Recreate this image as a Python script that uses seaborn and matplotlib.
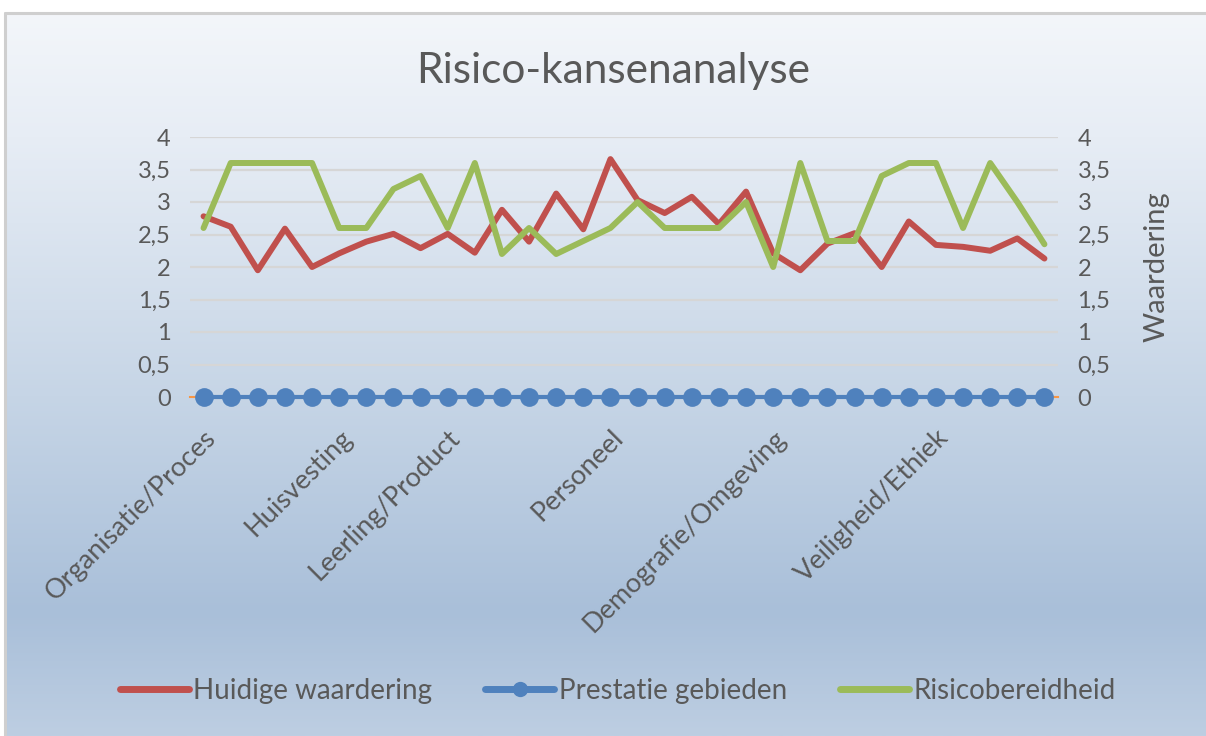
import numpy as np
import pandas as pd
import matplotlib
matplotlib.use("Agg")
import matplotlib.pyplot as plt
import seaborn as sns
from matplotlib.colors import LinearSegmentedColormap
from matplotlib.lines import Line2D

# 32 categories, only the group headers carry a label
categories = [""] * 32
categories[0] = "Organisatie/Proces"
categories[5] = "Huisvesting"
categories[9] = "Leerling/Product"
categories[15] = "Personeel"
categories[21] = "Demografie/Omgeving"
categories[27] = "Veiligheid/Ethiek"

huidige = [2.78, 2.62, 1.95, 2.59, 2.0, 2.21, 2.39, 2.51, 2.29, 2.51, 2.22, 2.88,
           2.39, 3.13, 2.58, 3.66, 3.03, 2.83, 3.08, 2.66, 3.16, 2.21, 1.95, 2.36,
           2.52, 2.0, 2.70, 2.34, 2.31, 2.25, 2.44, 2.13]
prestatie = [0] * 32
risico = [2.6, 3.6, 3.6, 3.6, 3.6, 2.6, 2.6, 3.2, 3.4, 2.6, 3.6, 2.2,
          2.6, 2.2, 2.4, 2.6, 3.0, 2.6, 2.6, 2.6, 3.0, 2.0, 3.6, 2.4,
          2.4, 3.4, 3.6, 3.6, 2.6, 3.6, 3.0, 2.35]

yticks = [0, 0.5, 1, 1.5, 2, 2.5, 3, 3.5, 4]
ytick_labels = ["0", "0,5", "1", "1,5", "2", "2,5", "3", "3,5", "4"]

RED, BLUE, GREEN = "#c0504d", "#4f81bd", "#9bbb59"
TXT = "#595959"

sns.set_theme(style="white")
plt.rcParams['font.family'] = ['Lato', 'DejaVu Sans']

W, H = 1206, 736
fig = plt.figure(figsize=(W / 100, H / 100), dpi=100)
fig.patch.set_facecolor("white")

# background gradient of the chart area
bg = fig.add_axes([0, 0, 1, 1])
bg.axis("off")
bg.set_xlim(0, 1)
bg.set_ylim(0, 1)
cmap = LinearSegmentedColormap.from_list(
    "bg", [(0.0, "#f3f6fa"), (0.17, "#e7edf5"), (0.53, "#c6d5e6"),
           (0.83, "#a9bfd9"), (1.0, "#bdcee2")])
grad = np.linspace(0, 1, 256).reshape(-1, 1)
bg.imshow(grad, extent=[5 / W, 1, 0, 1 - 13 / H], aspect="auto", cmap=cmap,
          origin="upper", zorder=0)
bg.plot([5 / W, 1], [1 - 13 / H] * 2, color="#cfcfcf", lw=2.2, zorder=1)
bg.plot([5 / W] * 2, [0, 1 - 13 / H], color="#cfcfcf", lw=2.2, zorder=1)

ax = fig.add_axes([190 / W, 339 / H, 868 / W, 260 / H])
ax.patch.set_alpha(0)

df = pd.DataFrame({"pos": range(32), "huidige": huidige,
                   "prestatie": prestatie, "risico": risico})

for y in yticks[1:]:
    ax.axhline(y, color="#d6d6d6", lw=1.6, zorder=1)

sns.lineplot(data=df, x="pos", y="huidige", color=RED, lw=4.3, ax=ax,
             solid_capstyle="round", solid_joinstyle="round", zorder=3)
sns.lineplot(data=df, x="pos", y="prestatie", color=BLUE, lw=3, ax=ax,
             marker="o", markersize=13.5, markeredgewidth=0, zorder=4,
             clip_on=False)
sns.lineplot(data=df, x="pos", y="risico", color=GREEN, lw=4.3, ax=ax,
             solid_capstyle="round", solid_joinstyle="round", zorder=3)

ax.set_xlim(-0.5, 31.5)
ax.set_ylim(0, 4)
ax.set_yticks(yticks)
ax.set_yticklabels(ytick_labels, fontsize=17, color=TXT)
ax.set_xticks(range(32))
ax.set_xticklabels(categories, rotation=45, ha="right",
                   rotation_mode="anchor", fontsize=19.5, color=TXT)
ax.tick_params(axis="x", length=0, pad=20)
ax.tick_params(axis="y", length=0, pad=14)
ax.set_xlabel("")
ax.set_ylabel("")
for s in ["top", "left", "right"]:
    ax.spines[s].set_visible(False)
ax.spines["bottom"].set_color("#f79646")
ax.spines["bottom"].set_linewidth(1.5)
ax.spines["bottom"].set_zorder(2)

ax2 = ax.twinx()
ax2.set_ylim(0, 4)
ax2.set_yticks(yticks)
ax2.set_yticklabels(ytick_labels, fontsize=17, color=TXT)
ax2.tick_params(axis="y", length=0, pad=14)
ax2.set_ylabel("Waardering", fontsize=21, color=TXT, labelpad=24)
for s in ax2.spines.values():
    s.set_visible(False)

fig.text(0.508, 1 - 71 / H, "Risico-kansenanalyse", fontsize=30.5, color=TXT,
         ha="center", va="center")

handles = [
    Line2D([], [], color=RED, lw=5, solid_capstyle="round"),
    Line2D([], [], color=BLUE, lw=5, marker="o", markersize=11,
           markeredgewidth=0),
    Line2D([], [], color=GREEN, lw=5, solid_capstyle="round"),
]
labels = ["Huidige waardering", "Prestatie gebieden", "Risicobereidheid"]
fig.legend(handles, labels, loc="center", bbox_to_anchor=(0.512, 1 - 691 / H),
           ncol=3, frameon=False, fontsize=20, labelcolor=TXT,
           handlelength=2.5, handletextpad=0.15, columnspacing=1.9)

fig.savefig("out.png", dpi=100)
